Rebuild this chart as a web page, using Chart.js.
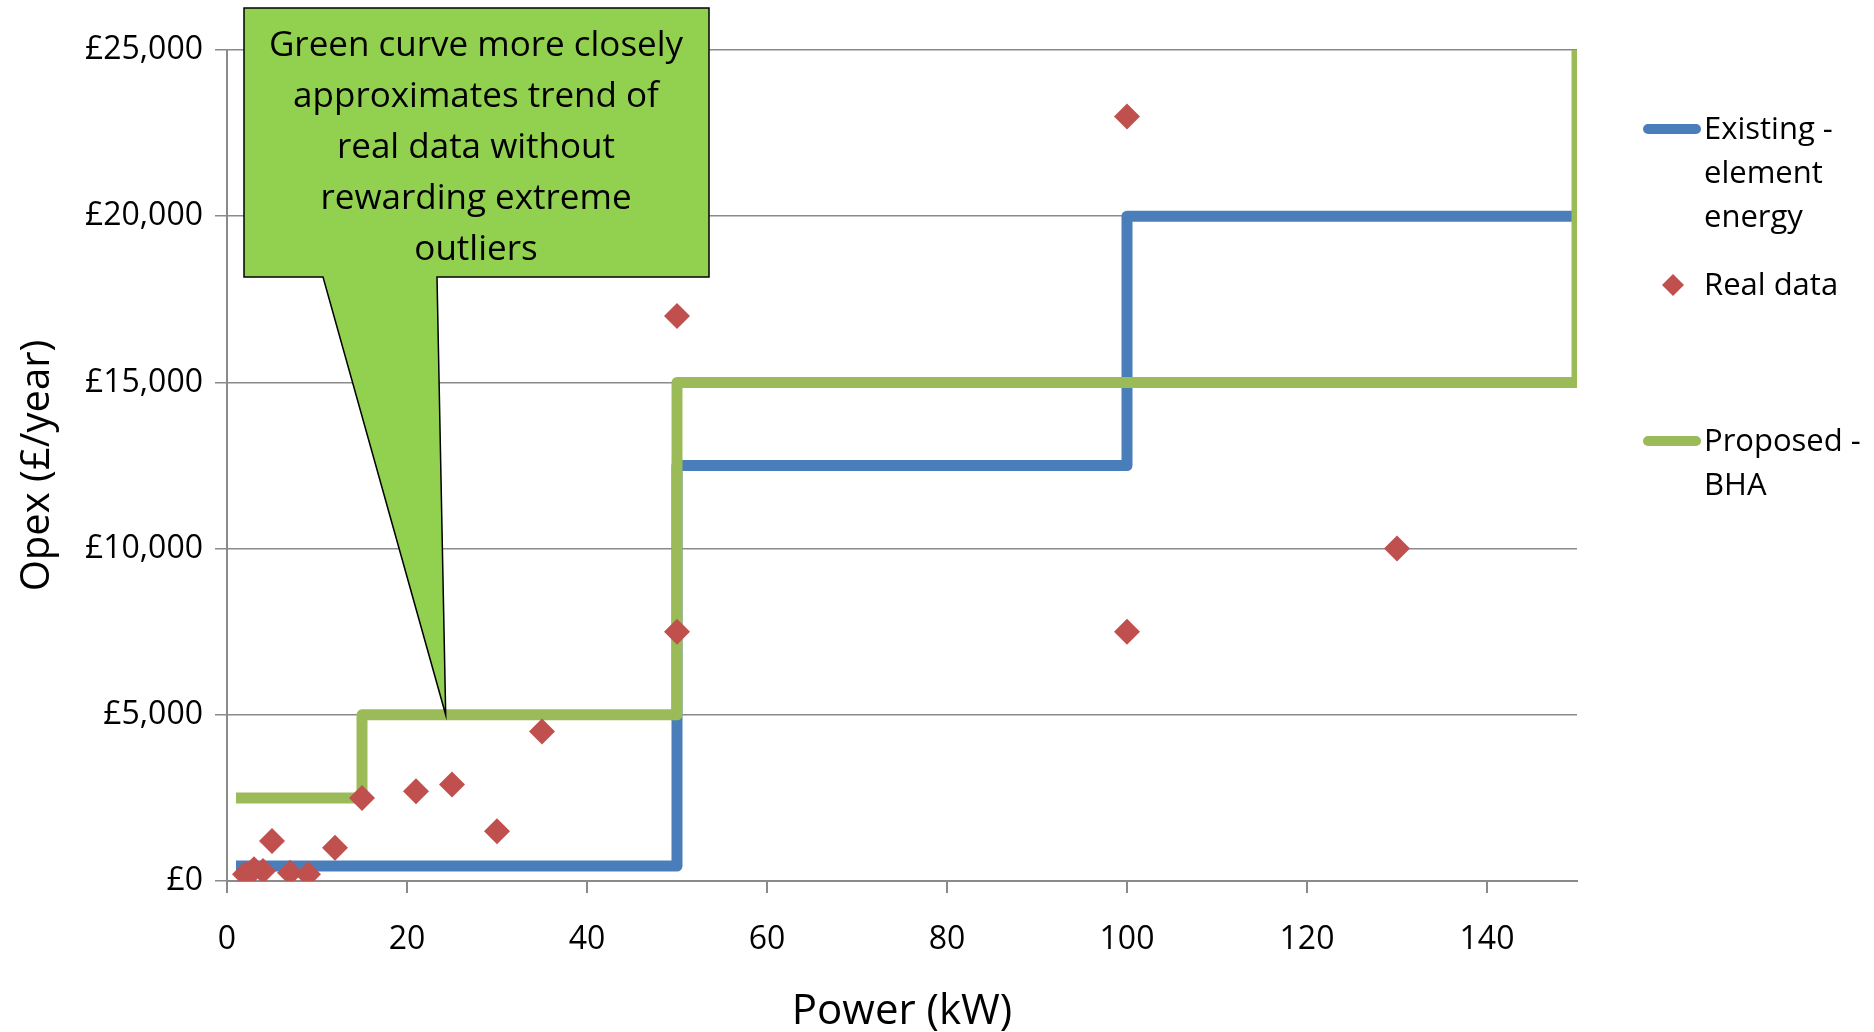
<!DOCTYPE html>
<html>
<head>
<meta charset="utf-8">
<script src="https://cdn.jsdelivr.net/npm/chart.js@4.4.1/dist/chart.umd.min.js"></script>
<style>
  html, body { margin: 0; padding: 0; background: #fff; }
  #wrap { width: 1874px; height: 1032px; position: relative; }
</style>
</head>
<body>
<div id="wrap"><canvas id="opexChart"></canvas></div>
<script>
// tick values
const xTicks = [0, 20, 40, 60, 80, 100, 120, 140];
const yTicks = [0, 5000, 10000, 15000, 20000, 25000];

// real data points (kW, £/year)
const realX = [2, 3, 4, 5, 7, 9, 12, 15, 21, 25, 30, 35, 50, 50, 100, 100, 130];
const realY = [200, 350, 300, 1200, 250, 200, 1000, 2500, 2700, 2900, 1500, 4500, 17000, 7500, 23000, 7500, 10000];

// step curves (each level holds from its x to the next x)
const existingX = [1, 50, 100, 150];
const existingY = [450, 12500, 20000, 20000];
const proposedX = [1, 15, 50, 150, 150];
const proposedY = [2500, 5000, 15000, 15000, 25000];

const calloutLines = ['Green curve more closely', 'approximates trend of', 'real data without', 'rewarding extreme', 'outliers'];
const calloutTip = { x: 24.3, y: 5000 };

const BLUE = '#4A7EBB', GREEN = '#9BBB59', RED = '#C0504D', GRID = '#8a8a8a';
const FONT = '"Open Sans", "DejaVu Sans", sans-serif';

function pts(xs, ys) {
  return xs.map((x, i) => ({ x: x, y: ys[i] }));
}

// callout box + custom legend
const extras = {
  id: 'extras',
  afterDraw(chart) {
    const ctx = chart.ctx;
    const xs = chart.scales.x, ys = chart.scales.y;
    const tipX = xs.getPixelForValue(calloutTip.x);
    const tipY = ys.getPixelForValue(calloutTip.y);

    ctx.save();
    ctx.beginPath();
    ctx.moveTo(244, 8);
    ctx.lineTo(709, 8);
    ctx.lineTo(709, 277);
    ctx.lineTo(437, 277);
    ctx.lineTo(tipX, tipY);
    ctx.lineTo(323, 277);
    ctx.lineTo(244, 277);
    ctx.closePath();
    ctx.fillStyle = '#92D050';
    ctx.fill();
    ctx.lineWidth = 1.5;
    ctx.strokeStyle = '#000';
    ctx.stroke();

    ctx.fillStyle = '#000';
    ctx.font = '35px ' + FONT;
    ctx.textAlign = 'center';
    ctx.textBaseline = 'middle';
    calloutLines.forEach((t, i) => ctx.fillText(t, 476, 46 + i * 51));

    // legend
    ctx.textAlign = 'left';
    ctx.font = '31px ' + FONT;
    ctx.lineCap = 'round';
    ctx.lineWidth = 10;
    ctx.strokeStyle = BLUE;
    ctx.beginPath(); ctx.moveTo(1648, 129); ctx.lineTo(1696, 129); ctx.stroke();
    ['Existing -', 'element', 'energy'].forEach((t, i) => ctx.fillText(t, 1704, 130 + i * 44));

    ctx.fillStyle = RED;
    ctx.beginPath();
    ctx.moveTo(1673, 274); ctx.lineTo(1684, 285); ctx.lineTo(1673, 296); ctx.lineTo(1662, 285);
    ctx.closePath(); ctx.fill();
    ctx.fillStyle = '#000';
    ctx.fillText('Real data', 1704, 286);

    ctx.strokeStyle = GREEN;
    ctx.beginPath(); ctx.moveTo(1648, 441); ctx.lineTo(1696, 441); ctx.stroke();
    ['Proposed -', 'BHA'].forEach((t, i) => ctx.fillText(t, 1704, 442 + i * 44));
    ctx.restore();
  }
};

new Chart(document.getElementById('opexChart'), {
  type: 'scatter',
  data: {
    datasets: [
      {
        label: 'Real data',
        data: pts(realX, realY),
        pointStyle: 'rectRot',
        pointRadius: 13,
        backgroundColor: RED,
        borderColor: RED,
        borderWidth: 0,
        order: 0
      },
      {
        label: 'Proposed - BHA',
        data: pts(proposedX, proposedY),
        showLine: true,
        stepped: 'before',
        borderColor: GREEN,
        borderWidth: 11,
        borderCapStyle: 'butt',
        borderJoinStyle: 'round',
        pointRadius: 0,
        order: 1
      },
      {
        label: 'Existing - element energy',
        data: pts(existingX, existingY),
        showLine: true,
        stepped: 'before',
        borderColor: BLUE,
        borderWidth: 11,
        borderCapStyle: 'butt',
        borderJoinStyle: 'round',
        pointRadius: 0,
        order: 2
      }
    ]
  },
  options: {
    responsive: true,
    maintainAspectRatio: false,
    animation: false,
    layout: { padding: { top: 50, right: 297, left: 0, bottom: 0 } },
    plugins: {
      legend: { display: false },
      tooltip: { enabled: false }
    },
    scales: {
      x: {
        type: 'linear',
        min: 0,
        max: 150,
        afterBuildTicks: s => { s.ticks = xTicks.map(v => ({ value: v })); },
        afterFit: s => { s.height = 151; },
        grid: { drawOnChartArea: false, color: GRID, tickLength: 12, lineWidth: 2 },
        border: { color: GRID, width: 2 },
        ticks: { color: '#000', font: { size: 32, family: FONT }, padding: 28 },
        title: { display: true, text: 'Power (kW)', color: '#000', font: { size: 42, family: FONT }, padding: { top: 12, bottom: -5 } }
      },
      y: {
        min: 0,
        max: 25000,
        afterBuildTicks: s => { s.ticks = yTicks.map(v => ({ value: v })); },
        afterFit: s => { s.width = 227; },
        grid: { color: GRID, lineWidth: 1.5, tickLength: 12 },
        border: { color: GRID, width: 2 },
        ticks: {
          color: '#000',
          font: { size: 32, family: FONT },
          padding: 12,
          callback: v => '£' + v.toLocaleString('en-GB')
        },
        title: { display: true, text: 'Opex (£/year)', color: '#000', font: { size: 40, family: FONT }, padding: { top: 14, bottom: 0 } }
      }
    }
  },
  plugins: [extras]
});
</script>
</body>
</html>
